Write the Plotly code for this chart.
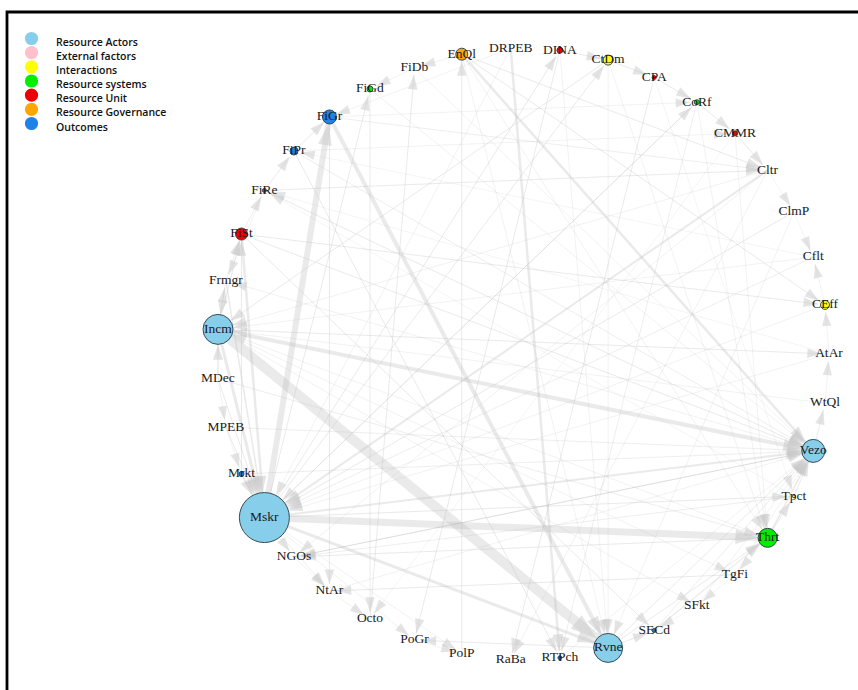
import math
import plotly.graph_objects as go

# ---------------- data ----------------
nodes = ["AtAr", "CEff", "Cflt", "ClmP", "Cltr", "CMMR", "CoRf", "CPA", "CtDm", "DINA",
         "DRPEB", "EnQl", "FiDb", "FiGd", "FiGr", "FiPr", "FiRe", "FiSt", "Frmgr", "Incm",
         "MDec", "MPEB", "Mrkt", "Mskr", "NGOs", "NtAr", "Octo", "PoGr", "PolP", "RaBa",
         "RTPch", "Rvne", "SECd", "SFkt", "TgFi", "Thrt", "Tpct", "Vezo", "WtQl"]

# category of each node (index into categories)
node_category = [0, 2, 1, 1, 0, 4, 3, 4, 2, 4,
                 0, 5, 6, 3, 6, 6, 6, 4, 0, 0,
                 0, 0, 6, 0, 0, 0, 0, 5, 5, 1,
                 6, 0, 6, 3, 1, 3, 2, 0, 3]

# node diameters (px)
node_size = [0, 9, 0, 0, 0, 5, 5, 4, 10, 6,
             0, 12, 0, 6, 14, 8, 4, 12, 0, 30,
             0, 0, 5, 50, 0, 0, 0, 0, 0, 0,
             4, 29, 4, 0, 0, 19, 3, 23, 0]

categories = ["Resource Actors", "External factors", "Interactions", "Resource systems",
              "Resource Unit", "Resource Governance", "Outcomes"]
category_colors = ["#87CEEB", "#FFC0CB", "#FFFF00", "#00EE00", "#EE0000", "#FFA500", "#1E82E6"]

# directed edges: source, target, weight (line width px)
edge_source = ["Incm", "Mskr", "Mskr", "FiGr", "Incm", "Mskr", "Incm", "DRPEB", "EnQl", "FiSt",
               "Cltr", "Mskr", "Mrkt", "Frmgr", "MDec", "PolP", "FiGd", "FiGr", "CPA", "DINA",
               "TgFi", "Rvne", "EnQl", "EnQl", "Mskr", "Octo", "FiPr", "FiRe", "CtDm", "SECd",
               "Rvne", "Thrt", "Thrt", "Tpct", "Vezo", "Incm", "Mskr", "Vezo", "Thrt", "Tpct",
               "CtDm", "CPA", "CoRf", "CMMR", "DINA", "Mskr", "Mskr", "Mskr", "ClmP", "Cflt",
               "Incm", "Mrkt", "MPEB", "MDec", "Incm", "Frmgr", "FiRe", "FiPr", "FiSt", "FiSt",
               "FiRe", "FiPr", "FiSt", "MPEB", "MDec", "Mrkt", "NGOs", "NtAr", "Mskr", "Mskr",
               "SECd", "SFkt", "TgFi", "RTPch", "Rvne", "Rvne", "FiSt", "CoRf", "Cltr", "CMMR",
               "CoRf", "AtAr", "CEff", "WtQl", "Cflt", "DRPEB", "FiDb", "FiGd", "FiGr", "FiPr",
               "FiGr", "EnQl", "EnQl", "CtDm", "DINA", "ClmP", "Cltr", "CMMR", "Vezo", "Thrt",
               "Tpct", "AtAr", "Cflt", "CEff", "AtAr", "WtQl", "ClmP", "Cltr", "TgFi", "SFkt",
               "Thrt", "PoGr", "NtAr", "NGOs", "Mskr", "Mskr", "Incm", "Incm", "MDec", "MPEB",
               "Frmgr", "FiRe", "DRPEB", "EnQl", "FiDb", "CtDm", "CPA", "Cltr", "CoRf"]
edge_target = ["Rvne", "Thrt", "FiGr", "Rvne", "Vezo", "Rvne", "Mskr", "RTPch", "Vezo", "Mskr",
               "Mskr", "Vezo", "Mskr", "Mskr", "Incm", "EnQl", "Octo", "NtAr", "RaBa", "PoGr",
               "NtAr", "PoGr", "CEff", "Cltr", "FiGd", "FiDb", "RTPch", "Cltr", "Incm", "Thrt",
               "Thrt", "Vezo", "Tpct", "Vezo", "WtQl", "AtAr", "Tpct", "NGOs", "NGOs", "NGOs",
               "CPA", "CoRf", "CMMR", "Cltr", "CtDm", "CtDm", "DINA", "CoRf", "Mskr", "Mskr",
               "Frmgr", "FiSt", "Mskr", "Mskr", "FiSt", "FiSt", "FiPr", "FiGr", "FiRe", "CEff",
               "Vezo", "Vezo", "Vezo", "Vezo", "Thrt", "Vezo", "Vezo", "Vezo", "NGOs", "NtAr",
               "Vezo", "Vezo", "Vezo", "Vezo", "Vezo", "SECd", "SECd", "RTPch", "RaBa", "Thrt",
               "Thrt", "Mskr", "Mskr", "Incm", "Incm", "Mskr", "Vezo", "Vezo", "Cltr", "CMMR",
               "CoRf", "Thrt", "Rvne", "Rvne", "Rvne", "Rvne", "NGOs", "Octo", "Frmgr", "Incm",
               "FiRe", "FiRe", "FiPr", "Cflt", "CEff", "AtAr", "Cflt", "ClmP", "SFkt", "SECd",
               "TgFi", "PolP", "Octo", "NtAr", "PolP", "PoGr", "SFkt", "TgFi", "MPEB", "Mrkt",
               "Incm", "Frmgr", "FiGr", "FiDb", "FiGd", "Thrt", "Tpct", "Incm", "Mskr"]
edge_weight = [10, 7, 6, 4, 4, 3, 3, 2.5, 2.5, 2.5,
               2, 2, 2, 1.5, 1.5, 1, 1, 1, 1, 1,
               1, 1, 1, 1, 1, 1, 1, 1, 1, 1.2,
               1, 1.5, 1, 1, 1, 1, 1, 1, 1, 0.8,
               1, 1, 1, 1, 1, 1, 1, 1, 1, 0.8,
               1, 1, 1, 1, 1, 0.8, 1, 1, 0.8, 1,
               1, 0.8, 1, 0.8, 0.8, 0.8, 0.8, 0.6, 1, 0.8,
               0.8, 0.6, 0.6, 0.6, 1, 1, 1, 0.8, 0.6, 0.6,
               0.6, 0.6, 0.6, 0.6, 0.6, 0.6, 0.6, 0.6, 0.8, 0.6,
               0.6, 0.6, 0.6, 0.6, 0.6, 0.6, 0.6, 0.5, 0.6, 0.6,
               0.5, 0.5, 0.5, 0.6, 0.6, 0.6, 0.5, 0.5, 0.5, 0.5,
               0.5, 0.5, 0.6, 0.6, 0.6, 0.6, 0.6, 0.6, 0.6, 0.6,
               0.8, 0.6, 0.6, 0.6, 0.6, 0.6, 0.5, 0.6, 0.6]

# ---------------- layout (circle) ----------------
W, H = 858, 690
PX = 306.0            # pixels per layout unit
CX, CY = 523.0, 354.0  # circle centre in pixels
n = len(nodes)
theta = [2 * math.pi * i / n for i in range(n)]
nx = [math.cos(t) for t in theta]
ny = [math.sin(t) for t in theta]
idx = {name: i for i, name in enumerate(nodes)}

fig = go.Figure()

edge_line_color = "rgba(185,185,185,0.30)"
arrow_color = "rgba(200,200,200,0.70)"

ax_list, ay_list, ang_list, asz_list = [], [], [], []
for s, t, w in zip(edge_source, edge_target, edge_weight):
    i, j = idx[s], idx[t]
    dx, dy = nx[j] - nx[i], ny[j] - ny[i]
    L = math.hypot(dx, dy)
    ux, uy = dx / L, dy / L
    rs = node_size[i] / 2.0 / PX
    rt = max(node_size[j] / 2.0, 7.0) / PX
    x0, y0 = nx[i] + ux * rs, ny[i] + uy * rs
    x1, y1 = nx[j] - ux * rt, ny[j] - uy * rt
    fig.add_trace(go.Scatter(x=[x0, x1], y=[y0, y1], mode="lines",
                             line=dict(color=edge_line_color, width=w),
                             hoverinfo="skip", showlegend=False))
    ax_list.append(x1)
    ay_list.append(y1)
    ang_list.append(math.degrees(math.atan2(ux, uy)))
    asz_list.append(14 + 1.4 * w)

fig.add_trace(go.Scatter(x=ax_list, y=ay_list, mode="markers",
                         marker=dict(symbol="arrow", size=asz_list, angle=ang_list,
                                     color=arrow_color, line=dict(width=0)),
                         hoverinfo="skip", showlegend=False))

# nodes
fig.add_trace(go.Scatter(
    x=nx, y=ny, mode="markers+text", text=nodes, textposition="middle center",
    textfont=dict(family="Liberation Serif", size=13.5, color="#1a1a1a"),
    marker=dict(size=node_size, color=[category_colors[c] for c in node_category],
                line=dict(color="#2b3a44", width=[0.9 if s > 0 else 0 for s in node_size]),
                opacity=1),
    hoverinfo="text", showlegend=False))

# legend (manual, compact)
for k, (cat, col) in enumerate(zip(categories, category_colors)):
    cy = 38.5 + 14.17 * k
    r = 6.6
    fig.add_shape(type="circle", xref="paper", yref="paper",
                  x0=(31.5 - r) / W, x1=(31.5 + r) / W,
                  y0=1 - (cy + r) / H, y1=1 - (cy - r) / H,
                  fillcolor=col, line=dict(width=0))
    fig.add_annotation(xref="paper", yref="paper", x=54 / W, y=1 - (cy + 3) / H,
                       text=cat, showarrow=False, xanchor="left", yanchor="middle",
                       font=dict(family="Open Sans", size=10.5, color="#111111", weight=600))

# frame (top & left visible)
fig.add_shape(type="rect", xref="paper", yref="paper",
              x0=7 / W, x1=1.02, y0=-0.02, y1=1 - 12 / H,
              line=dict(color="black", width=2.8), fillcolor="rgba(0,0,0,0)")

fig.update_layout(
    width=W, height=H, margin=dict(l=0, r=0, t=0, b=0),
    paper_bgcolor="white", plot_bgcolor="white",
    xaxis=dict(range=[-CX / PX, (W - CX) / PX], visible=False, fixedrange=True),
    yaxis=dict(range=[-(H - CY) / PX, CY / PX], visible=False, fixedrange=True),
    showlegend=False,
)

fig.write_html("out.html", config={"displayModeBar": False},
               post_script="document.body.style.margin='0';")
